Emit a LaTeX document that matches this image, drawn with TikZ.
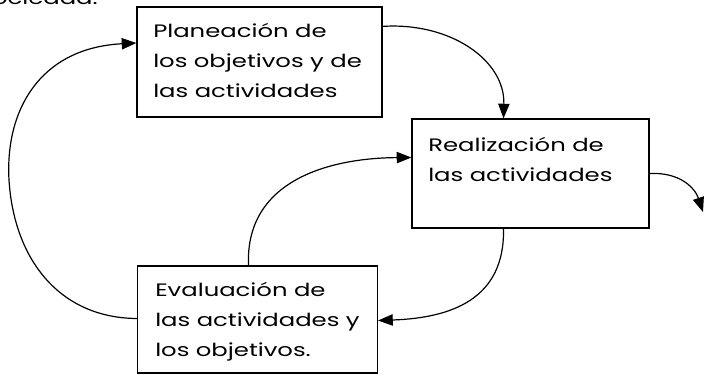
\documentclass[tikz,border=0pt]{standalone}
\usepackage{fontspec}
\setmainfont{Poppins}[FakeStretch=1.35]
\usetikzlibrary{arrows.meta,calc}
\begin{document}
\begin{tikzpicture}[x=0.75pt,y=-0.75pt,
  box/.style={draw,line width=0.9pt,rectangle,inner sep=0pt},
  txt/.style={anchor=base west,align=left,inner sep=0pt,font=\fontsize{13.5}{22.5}\selectfont},
  conn/.style={line width=0.9pt},
  arr/.style={conn,-{Triangle[length=11pt,width=8.5pt]}}]
\useasboundingbox (0,0) rectangle (704,375);
\begin{scope}
\clip (0,0) rectangle (704,375);
\node[txt,anchor=base east] (soc) at (98,4) {sociedad.};
\end{scope}
% boxes
\node[box,minimum width=183.75pt,minimum height=82.5pt] (p) at (259.5,62) {};
\node[box,minimum width=177.75pt,minimum height=81.75pt] (r) at (530.5,173.5) {};
\node[box,minimum width=180pt,minimum height=80.25pt] (e) at (257.5,319.5) {};
% texts (anchor = baseline of last line)
\node[txt] (pt) at (153,97) {Planeación de\\los objetivos y de\\las actividades};
\node[txt] (rt) at (428,181) {Realización de\\las actividades};
\node[txt] (et) at (155,356) {Evaluación de\\las actividades y\\los objetivos.};
% connectors
\coordinate (out) at (703,212);
\draw[arr] ($(p.north east)+(0,20)$) .. controls (450,22) and (505,60) .. ($(r.north)+(-27,0)$);
\draw[arr] (r.east) .. controls (680,172) and (695,188) .. (out);
\draw[arr] ($(r.south)+(-27,0)$) .. controls (505,300) and (450,318) .. ($(e.east)+(0,1)$);
\draw[arr] ($(e.north)+(-9,0)$) .. controls (245,180) and (330,158) .. ($(r.west)+(0,-16)$);
\draw[arr] ($(e.west)+(0,-1)$) .. controls (60,318) and (14,260) .. (9,180)
   .. controls (5,110) and (40,48) .. ($(p.west)+(0,-19)$);
\end{tikzpicture}
\end{document}
